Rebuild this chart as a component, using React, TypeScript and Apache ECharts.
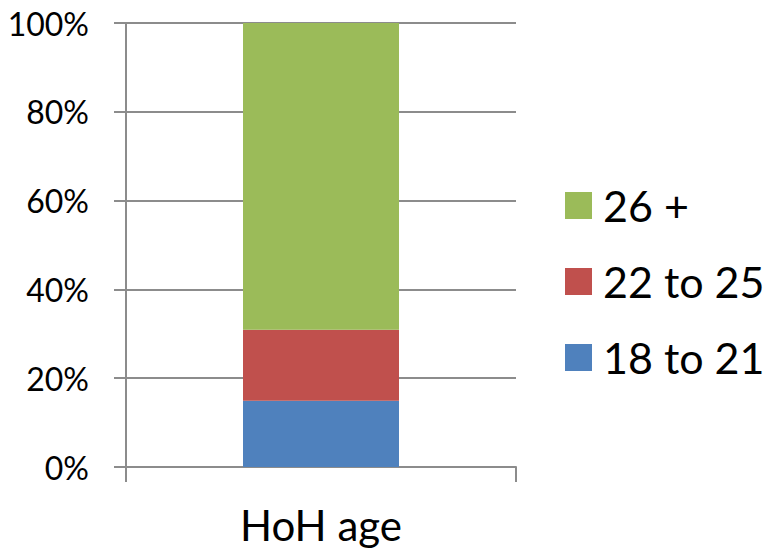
import React, { useEffect, useRef } from "react";
import * as echarts from "echarts";

const categories = ["HoH age"];
const seriesNames = ["18 to 21", "22 to 25", "26 +"];
const values18to21 = [0.149];
const values22to25 = [0.16];
const values26plus = [0.691];
const colors = ["#4F81BD", "#C0504D", "#9BBB59"];
const yTicks = [0, 0.2, 0.4, 0.6, 0.8, 1];

const FONT = "Lato, 'Open Sans', sans-serif";

export default function App() {
  const ref = useRef<HTMLDivElement>(null);
  useEffect(() => {
    document.body.style.margin = "0";
    const chart = echarts.init(ref.current!, undefined, { renderer: "svg" });
    const gridColor = "#8C8C8C";
    const dataSets = [values18to21, values22to25, values26plus];
    chart.setOption({
      animation: false,
      textStyle: { fontFamily: FONT },
      grid: { left: 126, right: 249, top: 23, bottom: 84, containLabel: false },
      legend: {
        orient: "vertical",
        left: 565,
        top: 184,
        padding: 0,
        data: [seriesNames[2], seriesNames[1], seriesNames[0]],
        itemWidth: 27,
        itemHeight: 27,
        itemGap: 33,
        icon: "rect",
        textStyle: { fontSize: 43, color: "#000", fontFamily: FONT, lineHeight: 40, padding: [0, 0, 0, 6] },
      },
      xAxis: {
        type: "category",
        data: categories,
        axisLine: { show: true, lineStyle: { color: gridColor, width: 2 } },
        axisTick: { show: true, length: 15, lineStyle: { color: gridColor, width: 2 } },
        axisLabel: { fontSize: 42, color: "#000", margin: 37, fontFamily: FONT },
      },
      yAxis: {
        type: "value",
        min: yTicks[0],
        max: yTicks[yTicks.length - 1],
        interval: 0.2,
        axisLine: { show: true, lineStyle: { color: gridColor, width: 2 } },
        axisTick: { show: true, length: 12, lineStyle: { color: gridColor, width: 2 } },
        splitLine: { show: true, lineStyle: { color: gridColor, width: 2 } },
        axisLabel: {
          fontSize: 32,
          color: "#000",
          margin: 37,
          fontFamily: FONT,
          formatter: (v: number) => Math.round(v * 100) + "%",
        },
      },
      series: seriesNames.map((name, i) => ({
        name,
        type: "bar",
        stack: "total",
        barWidth: "40%",
        itemStyle: { color: colors[i] },
        data: dataSets[i],
      })),
    });
    return () => chart.dispose();
  }, []);
  return <div ref={ref} style={{ width: 765, height: 551 }} />;
}
